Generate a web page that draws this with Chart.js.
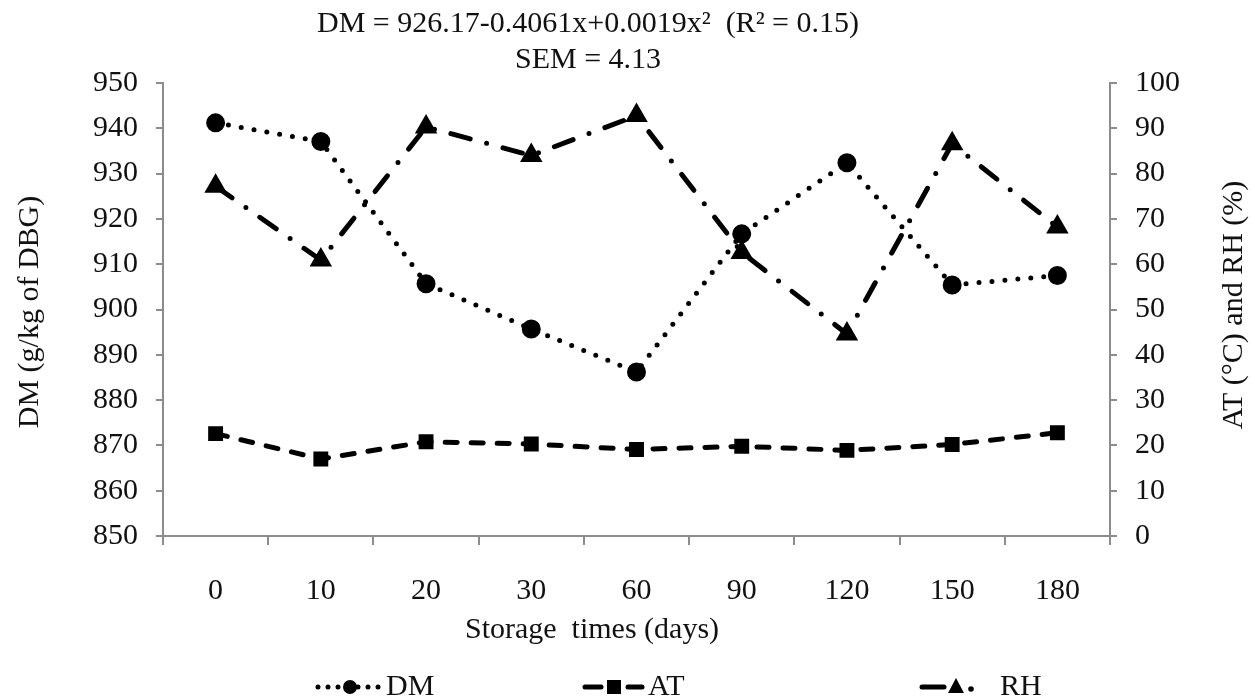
<!DOCTYPE html>
<html>
<head>
<meta charset="utf-8">
<script src="https://cdn.jsdelivr.net/npm/chart.js@4/dist/chart.umd.min.js"></script>
<style>
  html, body { margin: 0; padding: 0; background: #fff; }
  #wrap { width: 1255px; height: 700px; }
</style>
</head>
<body>
<div id="wrap"><canvas id="chart" width="1255" height="700"></canvas></div>
<script>
// storage times (days)
const days = ['0', '10', '20', '30', '60', '90', '120', '150', '180'];
// dry matter, g/kg of DBG (left axis)
const dmValues = [941.2, 937.1, 905.7, 895.7, 886.2, 916.7, 932.4, 905.4, 907.5];
// ambient temperature, °C (right axis)
const atValues = [22.6, 17.0, 20.8, 20.3, 19.1, 19.8, 18.9, 20.2, 22.8];
// relative humidity, % (right axis)
const rhValues = [77.2, 60.9, 90.3, 84.0, 92.8, 62.6, 44.6, 86.6, 68.2];

const titleLines = ['DM = 926.17-0.4061x+0.0019x\u00B2  (R\u00B2 = 0.15)', 'SEM = 4.13'];
const xTitle = 'Storage  times (days)';
const yLeftTitle = 'DM (g/kg of DBG)';
const yRightTitle = 'AT (\u00B0C) and RH (%)';

const FONT = '"Liberation Serif", "Times New Roman", serif';
const AXIS_GRAY = '#8c8c8c';

// text + custom legend drawn onto the canvas
const decorations = {
    id: 'decorations',
    afterDraw(chart) {
        const c = chart.ctx;
        c.save();
        c.fillStyle = '#111';
        c.textAlign = 'center';
        c.textBaseline = 'middle';
        c.font = '30px ' + FONT;
        c.fillText(titleLines[0], 588, 24);
        c.fillText(titleLines[1], 588, 60);

        c.fillText(xTitle, 592, 630);

        c.save();
        c.translate(30, 312);
        c.rotate(-Math.PI / 2);
        c.fillText(yLeftTitle, 0, 0);
        c.restore();

        c.save();
        c.translate(1234, 305);
        c.rotate(-Math.PI / 2);
        c.fillText(yRightTitle, 0, 0);
        c.restore();

        // legend
        const ly = 687;
        c.strokeStyle = '#000';
        c.fillStyle = '#000';
        c.lineCap = 'round';

        // DM
        c.lineWidth = 5;
        c.setLineDash([0, 10]);
        c.beginPath(); c.moveTo(318, ly); c.lineTo(382, ly); c.stroke();
        c.setLineDash([]);
        c.beginPath(); c.arc(350, ly, 7, 0, Math.PI * 2); c.fill();

        // AT
        c.beginPath(); c.moveTo(585, ly); c.lineTo(601, ly); c.stroke();
        c.beginPath(); c.moveTo(628, ly); c.lineTo(642, ly); c.stroke();
        c.fillRect(607, ly - 7, 14, 14);

        // RH
        c.beginPath(); c.moveTo(922, ly); c.lineTo(944, ly); c.stroke();
        c.beginPath(); c.moveTo(956, ly - 9); c.lineTo(964, ly + 6); c.lineTo(948, ly + 6); c.closePath(); c.fill();
        c.beginPath(); c.arc(971, ly + 2, 2.8, 0, Math.PI * 2); c.fill();

        c.fillStyle = '#111';
        c.textAlign = 'left';
        c.fillText('DM', 386, ly);
        c.fillText('AT', 648, ly);
        c.fillText('RH', 1000, ly);
        c.restore();
    }
};

const tickFont = { family: FONT, size: 30 };

const ctx = document.getElementById('chart');
new Chart(ctx, {
    type: 'line',
    data: {
        labels: days,
        datasets: [
            {
                label: 'DM',
                data: dmValues,
                yAxisID: 'yL',
                borderColor: '#000',
                backgroundColor: '#000',
                borderWidth: 5,
                borderDash: [0, 13],
                borderCapStyle: 'round',
                pointStyle: 'circle',
                pointRadius: 7,
                tension: 0
            },
            {
                label: 'AT',
                data: atValues,
                yAxisID: 'yR',
                borderColor: '#000',
                backgroundColor: '#000',
                borderWidth: 5,
                borderDash: [12, 14],
                borderCapStyle: 'round',
                pointStyle: 'rect',
                pointRadius: 7,
                tension: 0
            },
            {
                label: 'RH',
                data: rhValues,
                yAxisID: 'yR',
                borderColor: '#000',
                backgroundColor: '#000',
                borderWidth: 5,
                borderDash: [20, 17, 0, 17],
                borderCapStyle: 'round',
                pointStyle: 'triangle',
                pointRadius: 8,
                tension: 0
            }
        ]
    },
    options: {
        responsive: false,
        animation: false,
        layout: { padding: { top: 83, left: 0, right: 0, bottom: 0 } },
        plugins: {
            legend: { display: false },
            title: { display: false },
            tooltip: { enabled: false }
        },
        scales: {
            x: {
                offset: true,
                grid: {
                    offset: true,
                    drawOnChartArea: false,
                    color: AXIS_GRAY,
                    lineWidth: 2,
                    tickLength: 9
                },
                border: { color: AXIS_GRAY, width: 2 },
                ticks: { color: '#111', font: tickFont, padding: 28, maxRotation: 0 },
                afterFit(scale) { scale.height = 164; }
            },
            yL: {
                position: 'left',
                min: 850,
                max: 950,
                grid: { drawOnChartArea: false, color: AXIS_GRAY, lineWidth: 2, tickLength: 7 },
                border: { color: AXIS_GRAY, width: 2 },
                ticks: { stepSize: 10, color: '#111', font: tickFont, padding: 18 },
                afterFit(scale) { scale.width = 163; }
            },
            yR: {
                position: 'right',
                min: 0,
                max: 100,
                grid: { drawOnChartArea: false, color: AXIS_GRAY, lineWidth: 2, tickLength: 7 },
                border: { color: AXIS_GRAY, width: 2 },
                ticks: { stepSize: 10, color: '#111', font: tickFont, padding: 18 },
                afterFit(scale) { scale.width = 145; }
            }
        }
    },
    plugins: [decorations]
});
</script>
</body>
</html>
